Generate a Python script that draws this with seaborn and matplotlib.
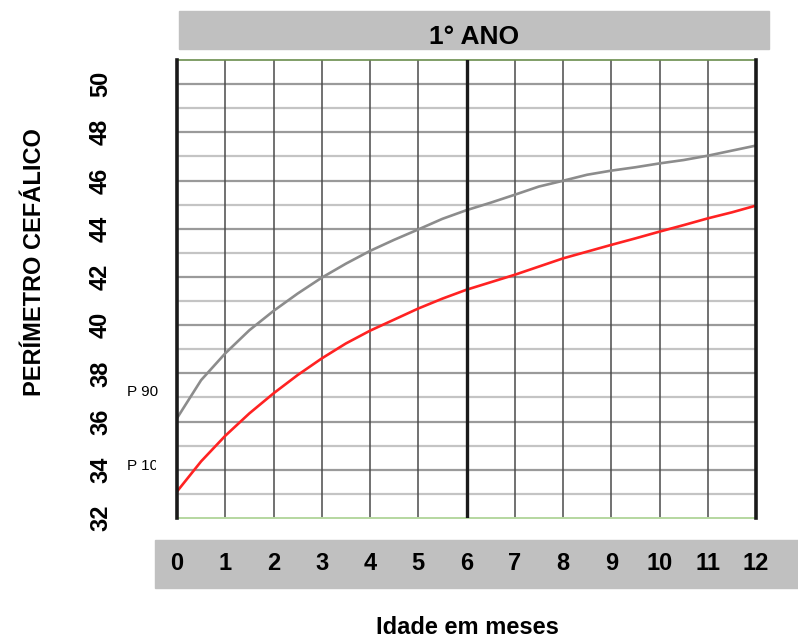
import matplotlib
matplotlib.use("Agg")
import matplotlib.pyplot as plt
from matplotlib.patches import Rectangle
import seaborn as sns
import pandas as pd

# ---- data ----
months = [0, 0.5, 1, 1.5, 2, 2.5, 3, 3.5, 4, 4.5, 5, 5.5, 6,
          6.5, 7, 7.5, 8, 8.5, 9, 9.5, 10, 10.5, 11, 11.5, 12]
p90 = [36.14, 37.72, 38.83, 39.79, 40.59, 41.31, 41.97, 42.55, 43.08, 43.54, 43.97, 44.41, 44.77,
       45.08, 45.41, 45.75, 45.99, 46.24, 46.41, 46.55, 46.71, 46.85, 47.03, 47.24, 47.45]
p10 = [33.10, 34.35, 35.41, 36.34, 37.17, 37.93, 38.62, 39.24, 39.77, 40.23, 40.69, 41.10, 41.47,
       41.78, 42.09, 42.43, 42.77, 43.05, 43.33, 43.60, 43.88, 44.15, 44.43, 44.68, 44.96]
x_ticks = list(range(0, 13))
y_ticks = list(range(32, 51, 2))
title = "1° ANO"
x_label = "Idade em meses"
y_label = "PERÍMETRO CEFÁLICO"
series_names = ["P 90", "P 10"]

df = pd.DataFrame({
    "mes": months * 2,
    "pc": p90 + p10,
    "serie": [series_names[0]] * len(months) + [series_names[1]] * len(months),
})

sns.set_style("white")
FONT = ["Liberation Sans Narrow", "Liberation Sans", "DejaVu Sans"]
plt.rcParams["font.family"] = FONT
plt.rcParams["text.color"] = "black"
plt.rcParams["xtick.color"] = "black"
plt.rcParams["ytick.color"] = "black"

W, H = 798, 638
fig = plt.figure(figsize=(W / 100, H / 100), dpi=100)


def fx(px):
    return px / W


def fy(py):
    return 1 - py / H


ax = fig.add_axes([fx(177), fy(518), fx(756) - fx(177), fy(60) - fy(518)])

# grey bands (title band and x tick band)
fig.add_artist(Rectangle((fx(179), fy(49)), fx(769) - fx(179), fy(11) - fy(49),
                         transform=fig.transFigure, color="#c0c0c0", zorder=0))
fig.add_artist(Rectangle((fx(155), fy(588)), fx(798) - fx(155), fy(540) - fy(588),
                         transform=fig.transFigure, color="#c0c0c0", zorder=0))

# grid
for v in range(33, 51, 2):
    ax.axhline(v, color="#c4c4c4", lw=1.6, zorder=1)
for v in range(34, 51, 2):
    ax.axhline(v, color="#9a9a9a", lw=1.6, zorder=1)
for m in x_ticks:
    if m in (0, 6, 12):
        continue
    ax.axvline(m, color="#4a4a4a", lw=1.1, zorder=2)
ax.axvline(6, color="#1a1a1a", lw=2.4, zorder=4)

sns.lineplot(data=df, x="mes", y="pc", hue="serie",
             palette={series_names[0]: "#8c8c8c", series_names[1]: "#ff2222"},
             linewidth=1.9, legend=False, ax=ax, zorder=3)

ax.set_xlim(0, 12)
ax.set_ylim(32, 51)
ax.set_xticks(x_ticks)
ax.set_yticks(y_ticks)
ax.set_xticklabels([str(t) for t in x_ticks], fontsize=17, fontweight="bold",
                   family=FONT, va="center", color="black")
ax.set_yticklabels([str(t) for t in y_ticks], fontsize=17, fontweight="bold",
                   family=FONT, rotation=90, va="center", ha="center", color="black")
ax.tick_params(axis="x", length=0, pad=33)
ax.tick_params(axis="y", length=0, pad=55)
ax.set_xlabel("")
ax.set_ylabel("")

for s in ("left", "right"):
    ax.spines[s].set_color("#1a1a1a")
    ax.spines[s].set_linewidth(2.6)
    ax.spines[s].set_zorder(5)
ax.spines["top"].set_color("#6b8e4e")
ax.spines["top"].set_linewidth(1.2)
ax.spines["bottom"].set_color("#b6d7a0")
ax.spines["bottom"].set_linewidth(1.4)

# texts
fig.text(fx(474), fy(37), title, fontsize=19, fontweight="bold", family=FONT,
         ha="center", va="center", color="black")
fig.text(fx(467), fy(627), x_label, fontsize=17, fontweight="bold", family=FONT,
         ha="center", va="center", color="black")
fig.text(fx(35), fy(262), y_label, fontsize=17, fontweight="bold", family=FONT,
         ha="center", va="center", rotation=90, color="black")

clip = Rectangle((fx(120), fy(520)), fx(156) - fx(120), fy(370) - fy(520),
                 transform=fig.transFigure, visible=False)
fig.add_artist(clip)
t1 = fig.text(fx(127), fy(392), series_names[0], fontsize=11, family=FONT,
              ha="left", va="center", color="black")
t2 = fig.text(fx(127), fy(466), series_names[1], fontsize=11, family=FONT,
              ha="left", va="center", color="black")
t2.set_clip_path(clip)

fig.savefig("out.png", dpi=100)
